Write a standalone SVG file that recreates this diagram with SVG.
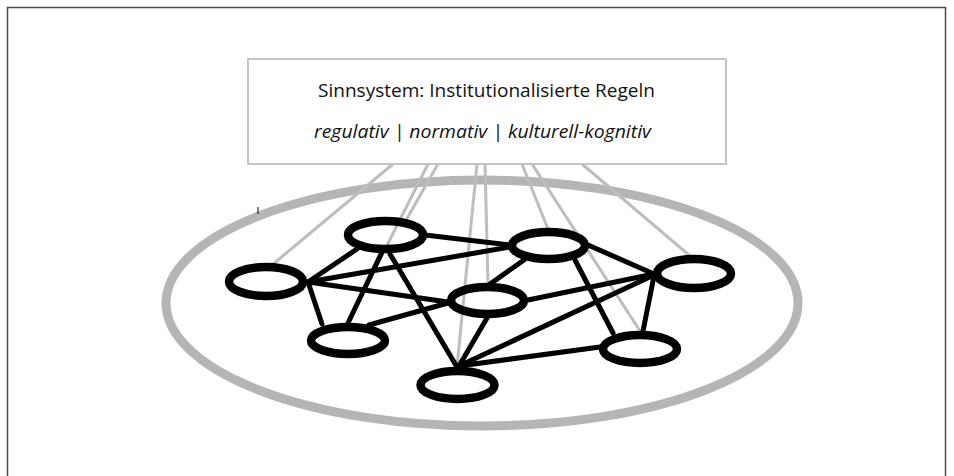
<svg xmlns="http://www.w3.org/2000/svg" width="954" height="476" viewBox="0 0 954 476">
<style>
.frame{fill:none;stroke:#4d4d4d;stroke-width:1.5}
.box{fill:#fff;stroke:#c4c4c4;stroke-width:2}
.t{font-family:"Open Sans","Liberation Sans",sans-serif;font-size:18px;fill:#111}
.ti{font-style:italic}
.outer{fill:none;stroke:#b5b5b5;stroke-width:9}
.g{stroke:#bdbdbd;stroke-width:3;fill:none}
.e{stroke:#000;stroke-width:5;fill:none;stroke-linecap:round}
.n{fill:none;stroke:#000;stroke-width:8.5}
</style>
<rect class="frame" x="7.5" y="7.5" width="938" height="480"/>
<g id="container">
<ellipse class="outer" cx="482" cy="303" rx="316" ry="123"/>
</g>
<line x1="258" y1="207" x2="258" y2="214" stroke="#000" stroke-width="1"/>
<g id="connectors">
<g id="gray-links">
<line class="g" x1="393" y1="164" x2="272" y2="265"/>
<line class="g" x1="428" y1="164" x2="348" y2="323"/>
<line class="g" x1="438" y1="164" x2="405" y2="222"/>
<line class="g" x1="477" y1="164" x2="457" y2="367"/>
<line class="g" x1="485" y1="164" x2="488" y2="284"/>
<line class="g" x1="522" y1="164" x2="548" y2="229"/>
<line class="g" x1="532" y1="164" x2="640" y2="331"/>
<line class="g" x1="582" y1="164" x2="690" y2="256"/>
</g>
<g id="black-links">
<line class="e" x1="425" y1="235" x2="510" y2="245"/>
<line class="e" x1="308" y1="282" x2="357" y2="249"/>
<line class="e" x1="308" y1="282" x2="510" y2="247"/>
<line class="e" x1="308" y1="282" x2="448" y2="302"/>
<line class="e" x1="308" y1="282" x2="322" y2="324"/>
<line class="e" x1="383" y1="250" x2="348" y2="323"/>
<line class="e" x1="390" y1="254" x2="457" y2="367"/>
<line class="e" x1="490" y1="284" x2="524" y2="260"/>
<line class="e" x1="588" y1="245" x2="654" y2="274"/>
<line class="e" x1="575" y1="260" x2="613" y2="333"/>
<line class="e" x1="528" y1="300" x2="654" y2="274"/>
<line class="e" x1="448" y1="303" x2="369" y2="325"/>
<line class="e" x1="487" y1="318" x2="459" y2="366"/>
<line class="e" x1="654" y1="275" x2="459" y2="366"/>
<line class="e" x1="654" y1="276" x2="643" y2="331"/>
<line class="e" x1="600" y1="347" x2="459" y2="366"/>
</g>
</g>
<g id="node-A"><ellipse class="n" cx="385.5" cy="235" rx="37.5" ry="14"/></g>
<g id="node-B"><ellipse class="n" cx="548.5" cy="245.5" rx="36.5" ry="13.5"/></g>
<g id="node-C"><ellipse class="n" cx="266" cy="281.5" rx="37" ry="14.5"/></g>
<g id="node-D"><ellipse class="n" cx="487.5" cy="300.5" rx="36.5" ry="13.5"/></g>
<g id="node-E"><ellipse class="n" cx="694" cy="273.5" rx="37" ry="14.5"/></g>
<g id="node-F"><ellipse class="n" cx="348" cy="340.5" rx="37" ry="13.5"/></g>
<g id="node-G"><ellipse class="n" cx="640" cy="349" rx="37" ry="14"/></g>
<g id="node-H"><ellipse class="n" cx="457.5" cy="385" rx="37" ry="14"/></g>
<g id="sinnsystem">
<rect class="box" x="248" y="59" width="478" height="105"/>
<text class="t" x="486.5" y="97" text-anchor="middle" textLength="337" lengthAdjust="spacingAndGlyphs">Sinnsystem: Institutionalisierte Regeln</text>
<text class="t ti" x="482.5" y="138" text-anchor="middle" textLength="337" lengthAdjust="spacingAndGlyphs">regulativ | normativ | kulturell-kognitiv</text>
</g>
</svg>
